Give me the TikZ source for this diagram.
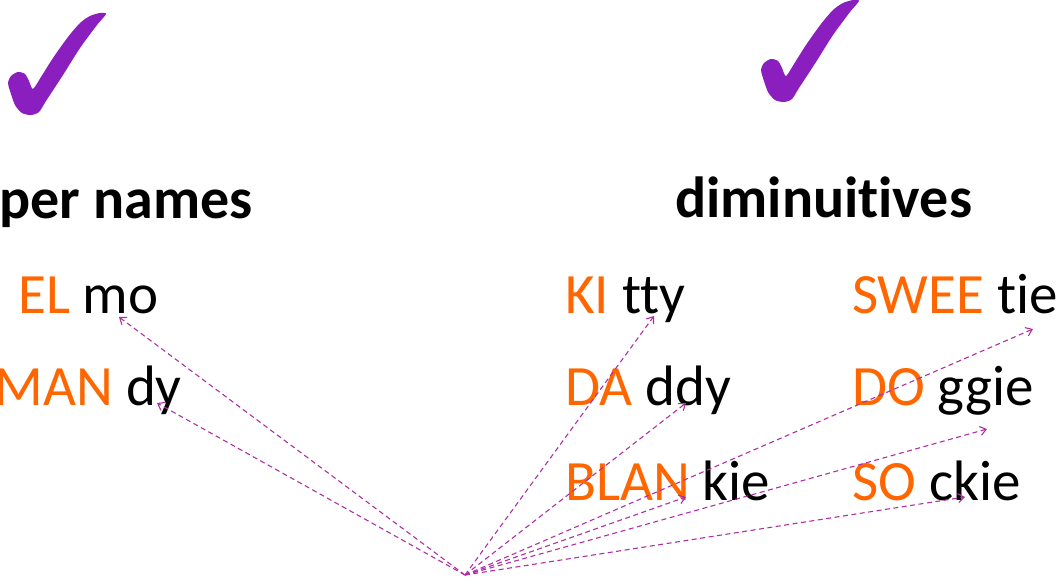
\documentclass[tikz,border=0pt]{standalone}
\usepackage{fontspec}
\setmainfont{Carlito}[Ligatures=NoCommon]
\usetikzlibrary{arrows.meta}
\definecolor{ckpurple}{RGB}{138,30,190}
\definecolor{arrowmag}{RGB}{176,48,164}
\definecolor{wordorange}{RGB}{255,102,0}
\tikzset{
  word/.style={inner sep=0pt, font=\fontsize{57}{62}\selectfont, anchor=base west},
  heading/.style={inner sep=0pt, font=\fontsize{58}{64}\selectfont\bfseries},
  link/.style={draw=arrowmag, line width=1.1pt, dash pattern=on 5pt off 3.5pt, -{Straight Barb[length=6pt,width=9pt,line width=1.1pt]}},
  checkfill/.style={fill=ckpurple, draw=none}
}
\newcommand{\checkshape}{%
  plot[smooth cycle, tension=0.45] coordinates {
    (92,0) (98,1) (89,12) (72,35) (55,62) (38,88) (31,99) (23,102) (14,100) (7,92) (2,78) (0,70) (3,63) (10,59) (17,61) (21,68) (25,76) (33,64) (45,45) (60,24) (72,10) (82,3)}}
\begin{document}
\begin{tikzpicture}[x=1pt,y=-1pt]
\useasboundingbox (0,0) rectangle (1057,577);
% check marks
\begin{scope}[shift={(8,13)}]
  \fill[checkfill] \checkshape;
\end{scope}
\begin{scope}[shift={(761,0)}]
  \fill[checkfill] \checkshape;
\end{scope}
% headings
\node[heading, anchor=base east] (h1) at (253,219) {per names};
\node[heading, anchor=base west] (h2) at (675,218) {diminuitives};
% words
\node[word] (elmo) at (18,313) {\textcolor{wordorange}{EL} mo};
\node[word, anchor=base east] (mandy) at (182,405) {\textcolor{wordorange}{MAN} dy};
\node[word] (kitty) at (565,313) {\textcolor{wordorange}{KI} tty};
\node[word] (daddy) at (565,405) {\textcolor{wordorange}{DA} ddy};
\node[word] (blankie) at (565,500) {\textcolor{wordorange}{BLAN} kie};
\node[word] (sweetie) at (852,313) {\textcolor{wordorange}{SWEE} tie};
\node[word] (doggie) at (852,405) {\textcolor{wordorange}{DO} ggie};
\node[word] (sockie) at (852,500) {\textcolor{wordorange}{SO} ckie};
% arrow ends
\coordinate (o) at (465,575);
\coordinate (tmo) at (119,317);
\coordinate (tdy) at (157,403);
\coordinate (ttty) at (654,316);
\coordinate (tddy) at (686,403);
\coordinate (tkie) at (686,497);
\coordinate (ttie) at (1033,329);
\coordinate (tggie) at (987,429);
\coordinate (tckie) at (965,497);
\foreach \t in {tmo,tdy,ttty,tddy,tkie,ttie,tggie,tckie}
  \draw[link] (o) -- (\t);
\end{tikzpicture}
\end{document}
